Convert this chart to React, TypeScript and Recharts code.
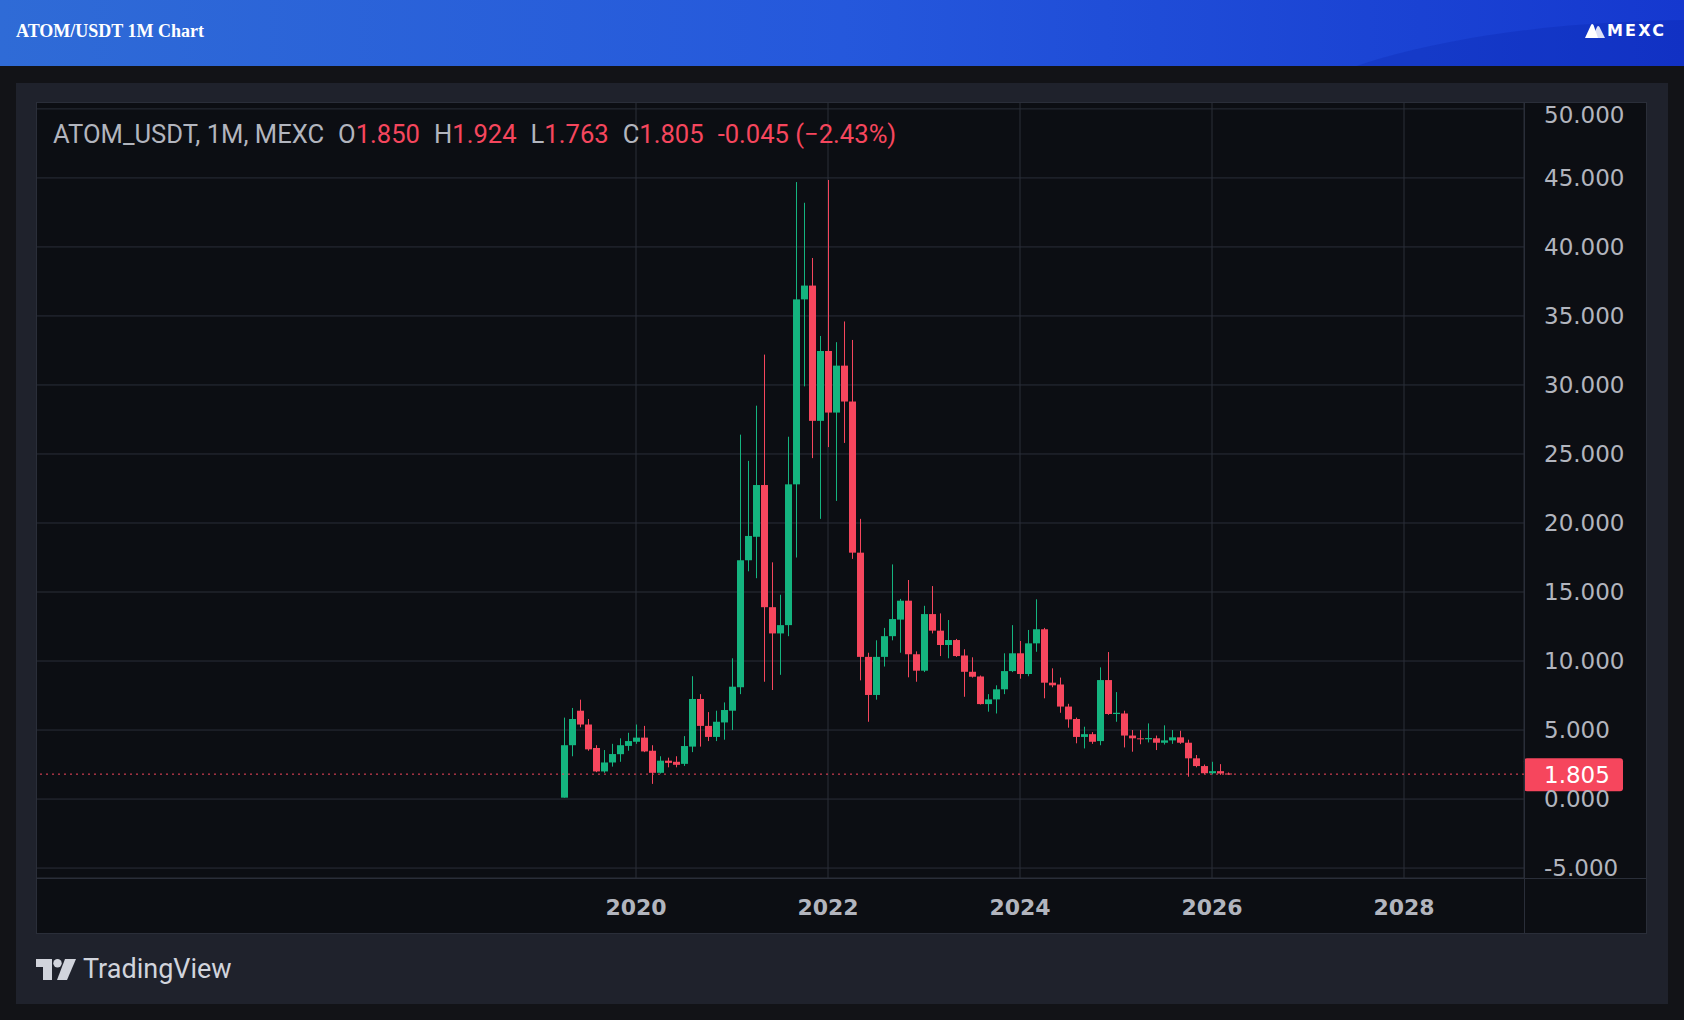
import React from 'react';
import { ComposedChart, Bar, XAxis, YAxis, CartesianGrid, ReferenceLine } from 'recharts';

const GREEN = '#14b47f';
const RED = '#f6465d';
const GRID = '#2a2e39';
const TEXT = '#b2b5be';

// monthly candles, Apr 2019 -> Mar 2026
const months = [
  '2019-04', '2019-05', '2019-06', '2019-07', '2019-08', '2019-09', '2019-10', '2019-11', '2019-12',
  '2020-01', '2020-02', '2020-03', '2020-04', '2020-05', '2020-06', '2020-07', '2020-08', '2020-09', '2020-10', '2020-11', '2020-12',
  '2021-01', '2021-02', '2021-03', '2021-04', '2021-05', '2021-06', '2021-07', '2021-08', '2021-09', '2021-10', '2021-11', '2021-12',
  '2022-01', '2022-02', '2022-03', '2022-04', '2022-05', '2022-06', '2022-07', '2022-08', '2022-09', '2022-10', '2022-11', '2022-12',
  '2023-01', '2023-02', '2023-03', '2023-04', '2023-05', '2023-06', '2023-07', '2023-08', '2023-09', '2023-10', '2023-11', '2023-12',
  '2024-01', '2024-02', '2024-03', '2024-04', '2024-05', '2024-06', '2024-07', '2024-08', '2024-09', '2024-10', '2024-11', '2024-12',
  '2025-01', '2025-02', '2025-03', '2025-04', '2025-05', '2025-06', '2025-07', '2025-08', '2025-09', '2025-10', '2025-11', '2025-12',
  '2026-01', '2026-02', '2026-03',
];

const opens = [
  0.1, 3.9, 6.4, 5.4, 3.7, 2.0, 2.65, 3.25, 3.85,
  4.15, 4.45, 3.5, 1.9, 2.78, 2.7, 2.55, 3.8, 7.25, 5.3, 4.5, 5.55,
  6.4, 8.1, 17.3, 19.0, 22.75, 13.9, 12.0, 12.6, 22.8, 36.2, 37.2, 27.4,
  32.46, 28.0, 31.4, 28.8, 17.85, 10.3, 7.54, 10.3, 11.8, 13.0, 14.37, 10.49,
  9.3, 13.4, 12.2, 11.16, 11.52, 10.4, 9.22, 8.88, 6.88, 7.22, 7.95, 9.27,
  10.56, 9.06, 11.28, 12.3, 8.43, 8.3, 6.7, 5.8, 4.5, 4.7, 4.2, 8.62,
  6.16, 6.2, 4.6, 4.4, 4.33, 4.4, 4.08, 4.25, 4.47, 4.08, 2.95, 2.39,
  1.87, 2.02, 1.85,
];

const highs = [
  5.9, 6.6, 7.2, 5.8, 3.9, 3.55, 4.0, 4.4, 4.8,
  5.4, 5.3, 3.9, 3.1, 3.0, 3.1, 4.56, 8.9, 7.6, 6.3, 6.4, 7.0,
  10.2, 26.4, 24.5, 28.5, 32.2, 17.15, 14.8, 26.25, 44.7, 43.2, 39.2, 33.55,
  44.85, 33.1, 34.6, 33.26, 20.3, 10.6, 11.5, 12.4, 17.0, 14.5, 15.87, 10.7,
  14.0, 15.43, 13.45, 12.97, 11.6, 10.85, 10.27, 8.95, 7.6, 8.24, 10.56, 12.6,
  11.45, 12.25, 14.47, 12.4, 9.47, 8.8, 6.9, 5.9, 5.24, 4.85, 9.54, 10.65,
  7.75, 6.4, 5.0, 5.0, 5.48, 4.6, 5.34, 5.0, 4.95, 4.3, 3.19, 2.5,
  2.7, 2.53, 1.924,
];

const lows = [
  0.1, 3.1, 5.2, 3.5, 1.95, 1.9, 2.35, 2.7, 3.5,
  4.0, 3.4, 1.1, 1.85, 2.3, 2.3, 2.4, 3.4, 3.8, 4.2, 4.2, 4.3,
  5.0, 7.6, 16.5, 16.0, 8.5, 7.9, 9.0, 11.8, 17.5, 29.9, 24.7, 20.3,
  25.5, 21.6, 25.8, 17.4, 8.6, 5.6, 7.2, 9.6, 11.5, 10.6, 8.82, 8.5,
  9.2, 12.0, 10.36, 10.2, 10.3, 7.41, 8.8, 6.85, 6.33, 6.2, 7.6, 9.2,
  8.72, 8.9, 10.67, 7.3, 8.1, 6.25, 5.17, 4.04, 3.67, 4.0, 3.9, 6.1,
  5.6, 3.74, 3.43, 3.97, 4.1, 3.55, 3.95, 4.0, 4.0, 1.62, 2.3, 1.8,
  1.78, 1.75, 1.763,
];

const closes = [
  3.9, 5.8, 5.4, 3.6, 2.0, 2.65, 3.26, 3.9, 4.2,
  4.45, 3.45, 1.9, 2.78, 2.62, 2.48, 3.84, 7.25, 5.3, 4.5, 5.6, 6.45,
  8.14, 17.3, 19.06, 22.75, 13.9, 12.0, 12.6, 22.8, 36.2, 37.2, 27.4, 32.46,
  28.0, 31.4, 28.8, 17.85, 10.3, 7.54, 10.3, 11.8, 13.04, 14.37, 10.49, 9.3,
  13.4, 12.2, 11.16, 11.52, 10.36, 9.22, 8.86, 6.88, 7.22, 7.95, 9.27, 10.56,
  9.06, 11.28, 12.3, 8.43, 8.24, 6.7, 5.77, 4.5, 4.7, 4.15, 8.62, 6.16,
  6.25, 4.6, 4.4, 4.33, 4.42, 4.08, 4.25, 4.47, 4.08, 2.95, 2.39, 1.87,
  2.02, 1.85, 1.805,
];

const yearTicks = [2020, 2022, 2024, 2026, 2028];
const priceTicks = [-5, 0, 5, 10, 15, 20, 25, 30, 35, 40, 45, 50];
const lastClose = 1.805;

const data = months.map((m, i) => {
  const [yr, mo] = m.split('-').map(Number);
  return {
    t: yr + (mo - 1) / 12,
    open: opens[i],
    high: highs[i],
    low: lows[i],
    close: closes[i],
    range: [lows[i], highs[i]],
  };
});

function Candle(props: any) {
  const { x, y, width, height, payload } = props;
  if (x == null || y == null || !payload) return null;
  const { open, close, high, low } = payload;
  const top = Math.min(y, y + height);
  const bottom = Math.max(y, y + height);
  const span = high - low || 1;
  const toY = (v: number) => top + ((high - v) / span) * (bottom - top);
  const color = close >= open ? GREEN : RED;
  const cx = Math.round(x + width / 2);
  const bodyTop = toY(Math.max(open, close));
  const bodyBottom = toY(Math.min(open, close));
  return (
    <g>
      <rect x={cx} y={top} width={1} height={Math.max(1, bottom - top)} fill={color} />
      <rect x={cx - 3} y={bodyTop} width={7} height={Math.max(1, bodyBottom - bodyTop)} fill={color} />
    </g>
  );
}

function PriceTag(props: any) {
  const vb = props.viewBox;
  if (!vb) return null;
  const x = vb.x + vb.width;
  return (
    <g>
      <rect x={x} y={vb.y - 16} width={99} height={33} rx={3} fill={RED} />
      <text x={x + 20} y={vb.y + 1} dy="0.355em" fill="#fff" fontSize={23} fontFamily="DejaVu Sans">
        {lastClose.toFixed(3)}
      </text>
    </g>
  );
}

const legendStyle: React.CSSProperties = {
  position: 'absolute',
  left: 53,
  top: 119,
  fontFamily: 'Roboto, sans-serif',
  fontSize: 25.6,
  lineHeight: '30px',
  color: TEXT,
  whiteSpace: 'pre',
};

export default function App() {
  return (
    <div style={{ position: 'absolute', left: 0, top: 0, width: 1684, height: 1020, background: '#121317', overflow: 'hidden' }}>
      {/* header */}
      <div
        style={{
          position: 'absolute', left: 0, top: 0, width: 1684, height: 66, overflow: 'hidden',
          background: 'linear-gradient(90deg, #2f6bd6 0%, #2558dc 50%, #1538cf 100%)',
        }}
      >
        <div style={{ position: 'absolute', left: 1250, top: 20, width: 900, height: 260, borderRadius: '50%', background: 'rgba(0,20,150,0.18)' }} />
        <div style={{ position: 'absolute', left: 16, top: 21, color: '#fff', fontFamily: '"Liberation Serif", serif', fontWeight: 700, fontSize: 18 }}>
          ATOM/USDT 1M Chart
        </div>
        <svg style={{ position: 'absolute', left: 1585, top: 23 }} width={22} height={16}>
          <path d="M0 15 L6 2 Q7 0 8.5 2 L13 15 Z" fill="#fff" />
          <path d="M7 15 L12 4 Q13 2 14.5 4 L20 15 Z" fill="#fff" opacity={0.85} />
        </svg>
        <div style={{ position: 'absolute', left: 1607, top: 21, color: '#fff', fontFamily: '"DejaVu Sans", sans-serif', fontWeight: 700, fontSize: 16, letterSpacing: 2.2 }}>
          MEXC
        </div>
      </div>

      {/* panel */}
      <div style={{ position: 'absolute', left: 16, top: 83, width: 1652, height: 921, background: '#1f222c' }} />
      <div style={{ position: 'absolute', left: 36, top: 102, width: 1611, height: 832, background: '#0c0e13' }} />

      <div style={{ position: 'absolute', left: 36, top: 102 }}>
        <ComposedChart width={1611} height={832} data={data} margin={{ top: 0, right: 0, bottom: 0, left: 0 }}>
          <CartesianGrid stroke={GRID} strokeWidth={1} />
          <XAxis
            dataKey="t"
            type="number"
            domain={[2013.75, 2029.25]}
            ticks={yearTicks}
            allowDataOverflow
            height={56}
            axisLine={false}
            tickLine={false}
            tickSize={0}
            tickMargin={21}
            tick={{ fill: TEXT, fontSize: 22, fontWeight: 700, fontFamily: 'DejaVu Sans' }}
          />
          <YAxis
            orientation="right"
            type="number"
            domain={[-5.72, 50.5]}
            ticks={priceTicks}
            allowDataOverflow
            width={123}
            axisLine={false}
            tickLine={false}
            tickSize={0}
            tickMargin={20}
            tickFormatter={(v: number) => v.toFixed(3)}
            tick={{ fill: TEXT, fontSize: 23, fontFamily: 'DejaVu Sans', textAnchor: 'start' }}
          />
          <Bar dataKey="range" barSize={8} isAnimationActive={false} shape={(p: any) => <Candle {...p} />} />
          <ReferenceLine y={lastClose} stroke={RED} strokeDasharray="2 4" strokeWidth={1} label={<PriceTag />} />
        </ComposedChart>
      </div>

      {/* frame lines */}
      <div style={{ position: 'absolute', left: 36, top: 102, width: 1611, height: 832, boxSizing: 'border-box', border: `1px solid ${GRID}`, pointerEvents: 'none' }} />
      <div style={{ position: 'absolute', left: 1524, top: 102, width: 1, height: 832, background: GRID }} />
      <div style={{ position: 'absolute', left: 36, top: 878, width: 1611, height: 1, background: GRID }} />

      {/* legend */}
      <div style={legendStyle}>
        <span>ATOM_USDT, 1M, MEXC</span>
        <span style={{ marginLeft: 14 }}>O<span style={{ color: RED }}>1.850</span></span>
        <span style={{ marginLeft: 14 }}>H<span style={{ color: RED }}>1.924</span></span>
        <span style={{ marginLeft: 14 }}>L<span style={{ color: RED }}>1.763</span></span>
        <span style={{ marginLeft: 14 }}>C<span style={{ color: RED }}>1.805</span></span>
        <span style={{ marginLeft: 14, color: RED }}>-0.045 (−2.43%)</span>
      </div>

      {/* TradingView footer */}
      <svg style={{ position: 'absolute', left: 36, top: 959 }} width={40} height={22}>
        <path d="M0 0 H16 V21 H7 V8 H0 Z" fill="#d1d4dc" />
        <circle cx={21.5} cy={4.2} r={4.2} fill="#d1d4dc" />
        <path d="M29 0 H40 L31 21 H21 Z" fill="#d1d4dc" />
      </svg>
      <div style={{ position: 'absolute', left: 83, top: 953, color: '#d1d4dc', fontFamily: 'Roboto, sans-serif', fontSize: 27, lineHeight: '32px' }}>
        TradingView
      </div>
    </div>
  );
}
